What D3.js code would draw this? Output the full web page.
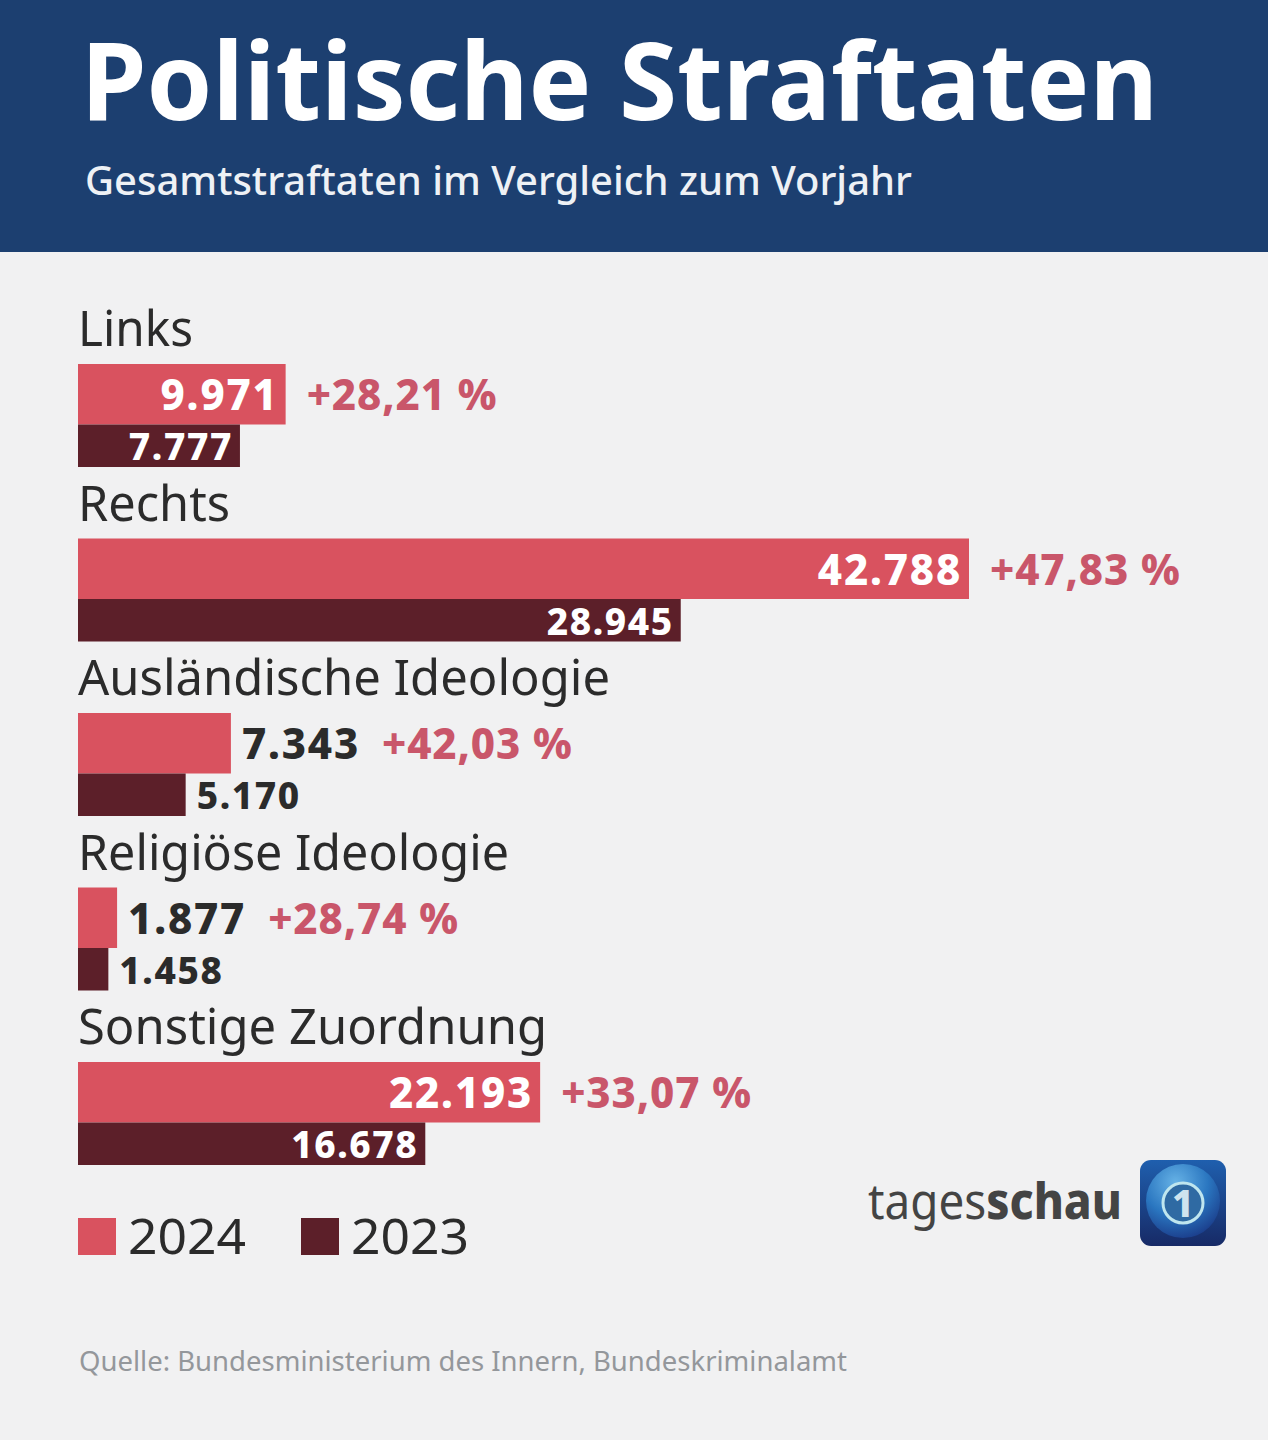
<!DOCTYPE html>
<html lang="de">
<head>
  <meta charset="UTF-8">
  <title>Politische Straftaten</title>
  <style>
    html, body { margin: 0; padding: 0; background: #f1f1f2; }
    svg { display: block; }
    text { font-family: "Noto Sans", "Open Sans", sans-serif; }
  </style>
</head>
<body>
  <div id="chart"></div>
  <script src="https://d3js.org/d3.v7.min.js"></script>
  <script>
    // Data
    const categories = ["Links", "Rechts", "Ausländische Ideologie", "Religiöse Ideologie", "Sonstige Zuordnung"];
    const values2024 = [9971, 42788, 7343, 1877, 22193];
    const values2023 = [7777, 28945, 5170, 1458, 16678];
    const changes = ["+28,21 %", "+47,83 %", "+42,03 %", "+28,74 %", "+33,07 %"];
    const legendYears = ["2024", "2023"];

    const W = 1268, H = 1440;
    const red = "#d9525f", dark = "#5c1f29", pctColor = "#c9566a", ink = "#2b2b2b";
    const deFormat = d3.format(",");
    const fmt = v => deFormat(v).replace(/,/g, ".");

    const svg = d3.select("#chart").append("svg").attr("width", W).attr("height", H);

    // Header
    svg.append("rect").attr("width", W).attr("height", 252).attr("fill", "#1c3f70");
    svg.append("text").attr("x", 81).attr("y", 120).attr("fill", "#fff")
      .attr("font-size", 108).attr("font-weight", 700).attr("textLength", 1077)
      .attr("lengthAdjust", "spacingAndGlyphs").text("Politische Straftaten");
    svg.append("text").attr("x", 85).attr("y", 195).attr("fill", "#eef1f5")
      .attr("font-size", 40).attr("font-weight", 500).attr("textLength", 827)
      .attr("lengthAdjust", "spacingAndGlyphs").text("Gesamtstraftaten im Vergleich zum Vorjahr");

    // Scales
    const x = d3.scaleLinear().domain([0, 42788]).range([78, 969]);
    const y = d3.scalePoint().domain(categories).range([364, 1062]);
    const h2024 = 60.5, h2023 = 43;

    const groups = svg.selectAll("g.group").data(categories).join("g").attr("class", "group")
      .attr("transform", d => `translate(0,${y(d)})`);

    groups.append("text").attr("x", 78).attr("y", -18).attr("fill", ink)
      .attr("font-size", 49).attr("textLength", (d, i) => [115, 152, 532, 431, 469][i])
      .attr("lengthAdjust", "spacingAndGlyphs").text(d => d);

    groups.append("rect").attr("x", x(0)).attr("y", 0).attr("height", h2024)
      .attr("width", (d, i) => x(values2024[i]) - x(0)).attr("fill", red);
    groups.append("rect").attr("x", x(0)).attr("y", h2024).attr("height", h2023 - 0.5)
      .attr("width", (d, i) => x(values2023[i]) - x(0)).attr("fill", dark);

    // Value labels go inside the bar if they fit, otherwise beside it
    const fits = v => x(v) - x(0) > 158;
    const label = (sel, vals, yPos, size, spacing) => sel.append("text")
      .attr("y", yPos).attr("font-size", size).attr("font-weight", 800)
      .attr("letter-spacing", spacing)
      .attr("x", (d, i) => fits(vals[i]) ? x(vals[i]) - 7 : x(vals[i]) + 11)
      .attr("text-anchor", (d, i) => fits(vals[i]) ? "end" : "start")
      .attr("fill", (d, i) => fits(vals[i]) ? "#fff" : ink)
      .text((d, i) => fmt(vals[i]));

    const lab2024 = label(groups, values2024, 46, 42, 1.8);
    label(groups, values2023, 96, 37, 1.6);
    // rows 1 and 4 of the 2023 labels sit beside the short bars the same way

    // Change labels follow the end of the value or bar
    groups.append("text").attr("y", 46).attr("font-size", 42).attr("font-weight", 800)
      .attr("letter-spacing", 0.9).attr("fill", pctColor)
      .attr("x", (d, i) => {
        const v = values2024[i];
        if (fits(v)) return x(v) + 21;
        return x(v) + 11 + lab2024.nodes()[i].getComputedTextLength() + 22;
      })
      .text((d, i) => changes[i]);

    // Legend
    const legendX = d3.scaleOrdinal().domain(legendYears).range([78, 301]);
    const legendColor = d3.scaleOrdinal().domain(legendYears).range([red, dark]);
    const legend = svg.selectAll("g.legend").data(legendYears).join("g").attr("class", "legend")
      .attr("transform", d => `translate(${legendX(d)},1218)`);
    legend.append("rect").attr("width", 38).attr("height", 37).attr("fill", d => legendColor(d));
    legend.append("text").attr("x", 50).attr("y", 36).attr("font-size", 49).attr("fill", ink)
      .attr("textLength", 118).attr("lengthAdjust", "spacingAndGlyphs").text(d => d);

    // Brand
    const brand = svg.append("text").attr("x", 868).attr("y", 1219).attr("font-size", 49)
      .attr("fill", "#444").attr("textLength", 254).attr("lengthAdjust", "spacingAndGlyphs");
    brand.append("tspan").text("tages");
    brand.append("tspan").attr("font-weight", 800).text("schau");

    // Logo
    const defs = svg.append("defs");
    const bg = defs.append("linearGradient").attr("id", "logoBg")
      .attr("x1", 0).attr("y1", 0).attr("x2", 0).attr("y2", 1);
    bg.append("stop").attr("offset", 0).attr("stop-color", "#1f5fae");
    bg.append("stop").attr("offset", 1).attr("stop-color", "#172a66");
    const globe = defs.append("radialGradient").attr("id", "logoGlobe")
      .attr("cx", 0.4).attr("cy", 0.25).attr("r", 0.8);
    globe.append("stop").attr("offset", 0).attr("stop-color", "#66b2e6");
    globe.append("stop").attr("offset", 0.55).attr("stop-color", "#2a76c0");
    globe.append("stop").attr("offset", 1).attr("stop-color", "#1a3a88");

    const logo = svg.append("g").attr("transform", "translate(1140,1160)");
    logo.append("rect").attr("width", 86).attr("height", 86).attr("rx", 11).attr("fill", "url(#logoBg)");
    logo.append("circle").attr("cx", 43).attr("cy", 41).attr("r", 37).attr("fill", "url(#logoGlobe)");
    logo.append("circle").attr("cx", 43).attr("cy", 43).attr("r", 20).attr("fill", "#2f6aa3")
      .attr("stroke", "#bfe6ef").attr("stroke-width", 3);
    logo.append("text").attr("x", 43).attr("y", 57).attr("text-anchor", "middle")
      .attr("font-size", 38).attr("font-weight", 800).attr("fill", "#cfe3ee").text("1");

    // Source
    svg.append("text").attr("x", 79).attr("y", 1371).attr("font-size", 27).attr("fill", "#94979b")
      .attr("textLength", 768).attr("lengthAdjust", "spacingAndGlyphs")
      .text("Quelle: Bundesministerium des Innern, Bundeskriminalamt");
  </script>
</body>
</html>
